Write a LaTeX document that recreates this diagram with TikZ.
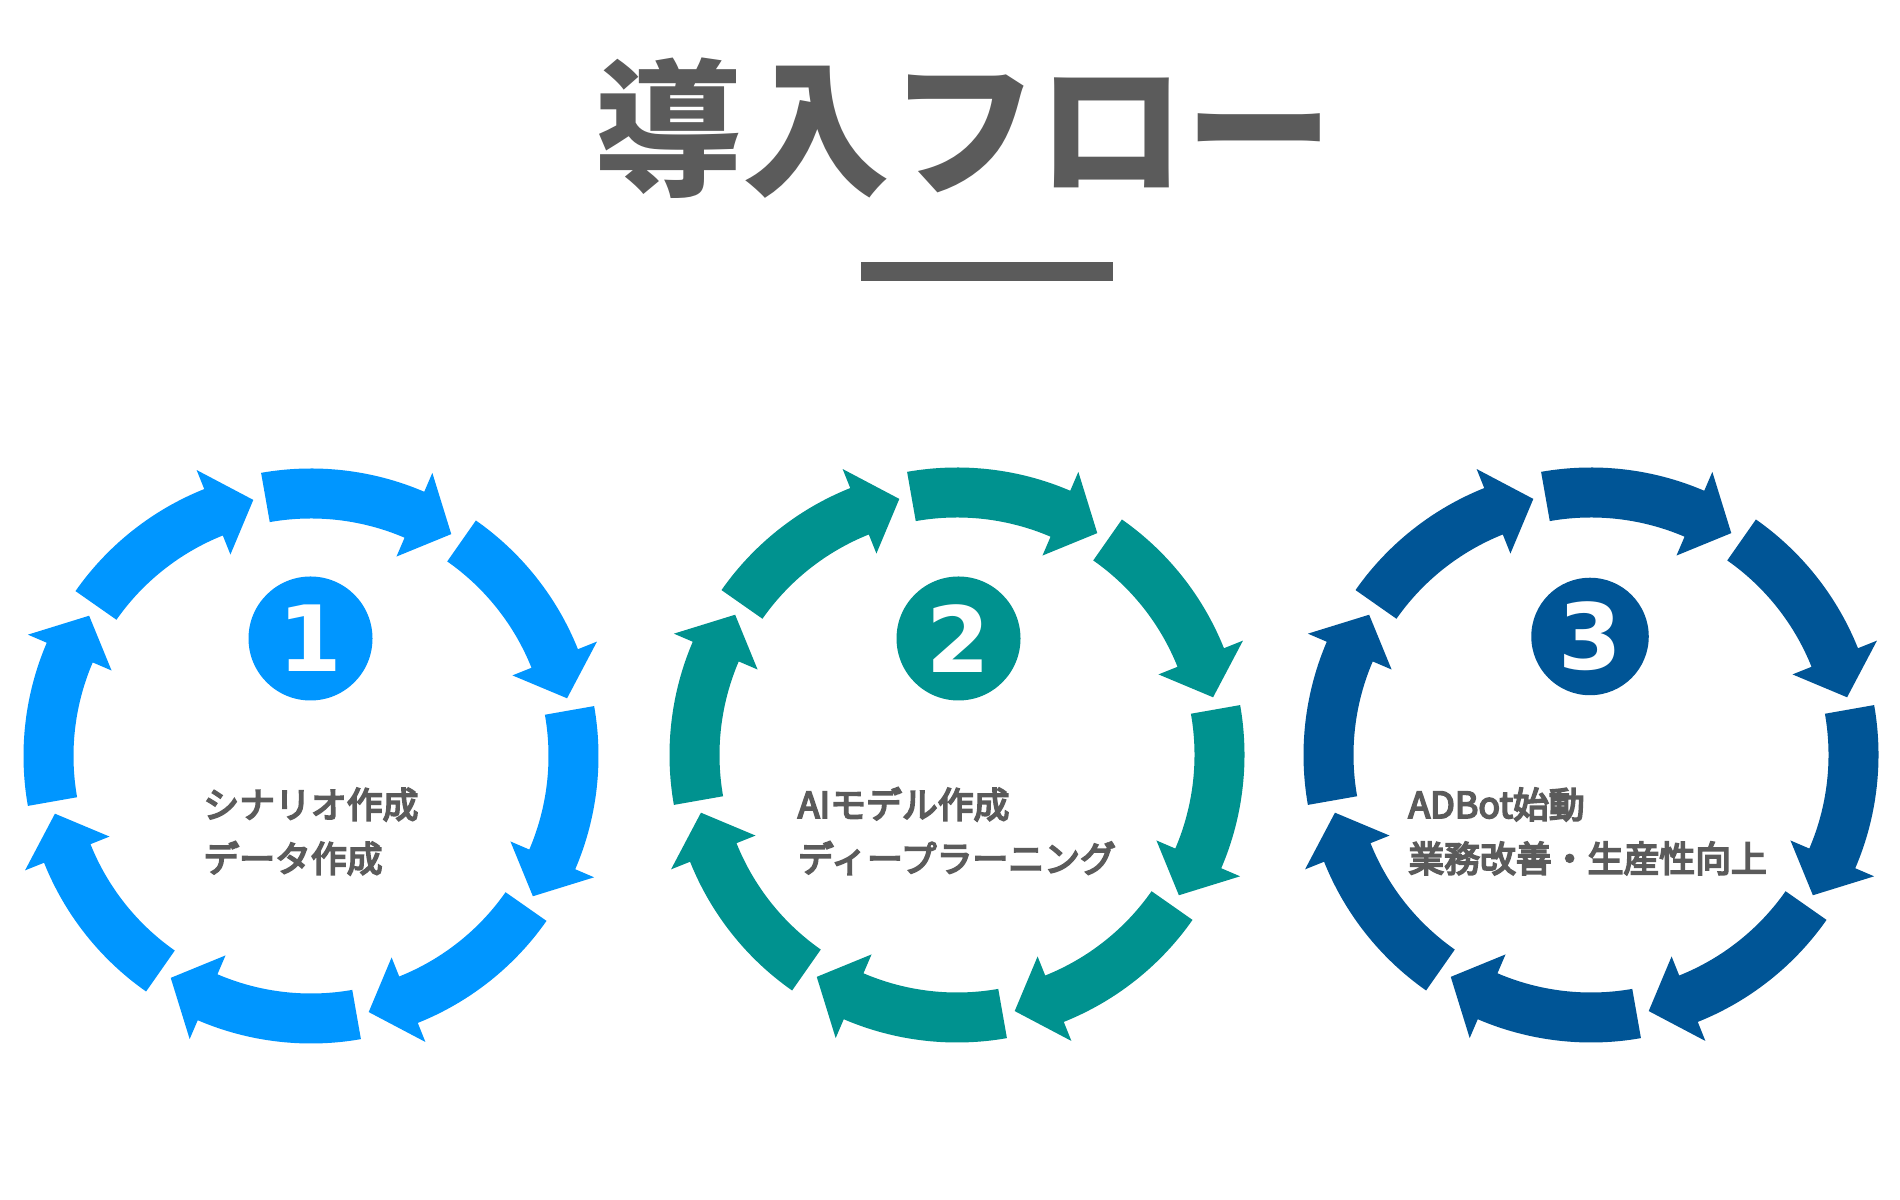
\documentclass[tikz,border=0pt]{standalone}
\usepackage{fontspec}
\usepackage{xcolor}
\usepackage{tikz}
\usetikzlibrary{positioning,calc}
\newfontfamily\jpfont{Noto Sans CJK JP}
\newfontfamily\jplabel{Noto Sans CJK JP}[FakeBold=5]
\newfontfamily\numfont{DejaVu Sans}

\definecolor{ringblue}{RGB}{0,150,255}
\definecolor{ringteal}{RGB}{0,146,143}
\definecolor{ringnavy}{RGB}{0,85,150}
\definecolor{txtgray}{RGB}{91,91,91}

% eight curved arrows round a centre: #1 centre, #2 colour
\newcommand{\flowring}[2]{%
  \foreach \a [evaluate=\a as \b using \a-33.2,
               evaluate=\a as \t using \a-42.3] in {100,55,...,-215}{
    \fill[#2, shift={(#1)}]
      (\a:5.75) arc[start angle=\a, end angle=\b, radius=5.75]
      -- (\b:6.16) -- (\t:5.25) -- (\b:4.34) -- (\b:4.75)
      arc[start angle=\b, end angle=\a, radius=4.75] -- cycle;
  }}

\begin{document}
\begin{tikzpicture}[
  badge/.style={circle, inner sep=0pt, minimum size=2.48cm, text=white,
                font=\numfont\bfseries\fontsize{52pt}{52pt}\selectfont},
  steptext/.style={anchor=base west, inner sep=0pt, text=txtgray,
                   font=\jplabel\fontsize{20.4pt}{24pt}\selectfont},
  font=\jpfont
]
\useasboundingbox (0,0) rectangle (38,24);
\fill[white] (0,0) rectangle (38,24);

% ======= Title =======
\node[anchor=base, inner sep=0pt, text=txtgray,
      font=\jpfont\bfseries\fontsize{84pt}{84pt}\selectfont]
  (title) at (19.28,20.30) {導入フロー};
\fill[txtgray] (17.22,18.76) rectangle (22.26,18.38);

% ======= Step 1 =======
\coordinate (ring1) at (6.22,8.88);
\flowring{ring1}{ringblue}
\node[badge, fill=ringblue] (num1) at (6.21,11.23) {1};
\node[steptext] (lab1a) at (4.06,7.64) {シナリオ作成};
\node[steptext] (lab1b) at (4.06,6.56) {データ作成};

% ======= Step 2 =======
\coordinate (ring2) at (19.14,8.90);
\flowring{ring2}{ringteal}
\node[badge, fill=ringteal] (num2) at (19.17,11.23) {2};
\node[steptext] (lab2a) at (15.95,7.64) {AIモデル作成};
\node[steptext] (lab2b) at (15.95,6.56) {ディープラーニング};

% ======= Step 3 =======
\coordinate (ring3) at (31.82,8.90);
\flowring{ring3}{ringnavy}
\node[badge, fill=ringnavy, minimum size=2.35cm] (num3) at (31.80,11.27) {3};
\node[steptext] (lab3a) at (28.16,7.64) {ADBot始動};
\node[steptext] (lab3b) at (28.16,6.56) {業務改善・生産性向上};

\end{tikzpicture}
\end{document}
